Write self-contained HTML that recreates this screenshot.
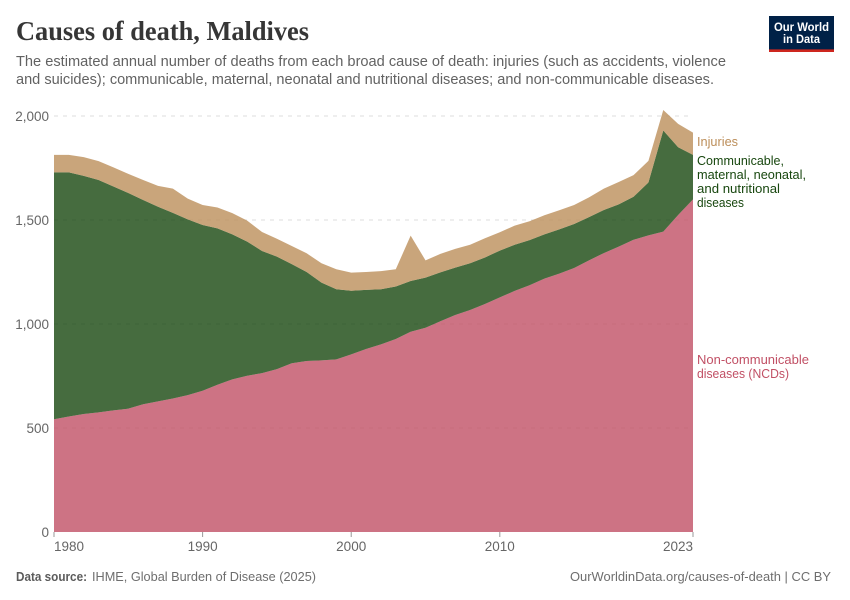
<!DOCTYPE html>
<html lang="en">
<head>
<meta charset="utf-8">
<title>Causes of death, Maldives</title>
<style>
html,body{margin:0;padding:0;background:#fff;width:850px;height:600px;overflow:hidden}
svg{display:block}
text{font-family:"Liberation Sans",sans-serif}
</style>
</head>
<body>
<svg id="chart" xmlns="http://www.w3.org/2000/svg" width="850" height="600" viewBox="0 0 850 600">
  <text x="16" y="40" textLength="293" lengthAdjust="spacingAndGlyphs" style="font-family:'Liberation Serif',serif;font-weight:700;font-size:27px" fill="#363636">Causes of death, Maldives</text>
  <text x="16" y="66" textLength="710" lengthAdjust="spacingAndGlyphs" font-size="15" fill="#626262">The estimated annual number of deaths from each broad cause of death: injuries (such as accidents, violence</text>
  <text x="16" y="84" textLength="698" lengthAdjust="spacingAndGlyphs" font-size="15" fill="#626262">and suicides); communicable, maternal, neonatal and nutritional diseases; and non-communicable diseases.</text>

  <g>
    <rect x="769" y="16" width="65" height="36" fill="#002147"/>
    <rect x="769" y="49.4" width="65" height="2.6" fill="#ce261e"/>
    <text x="801.5" y="31" text-anchor="middle" textLength="55" lengthAdjust="spacingAndGlyphs" font-size="12" font-weight="700" fill="#fff">Our World</text>
    <text x="801.5" y="43" text-anchor="middle" textLength="37" lengthAdjust="spacingAndGlyphs" font-size="12" font-weight="700" fill="#fff">in Data</text>
  </g>

  <g id="grid"></g>
  <g id="areas"></g>
  <g id="yaxis"></g>
  <g id="xaxis"></g>

  <g>
    <text x="697" y="146" textLength="41" lengthAdjust="spacingAndGlyphs" font-size="12.5" fill="#BC8E5A">Injuries</text>
    <g font-size="12.5" fill="#18470F">
      <text x="697" y="165" textLength="87" lengthAdjust="spacingAndGlyphs">Communicable,</text>
      <text x="697" y="179" textLength="109" lengthAdjust="spacingAndGlyphs">maternal, neonatal,</text>
      <text x="697" y="193" textLength="83" lengthAdjust="spacingAndGlyphs">and nutritional</text>
      <text x="697" y="207" textLength="47" lengthAdjust="spacingAndGlyphs">diseases</text>
    </g>
    <g font-size="12.5" fill="#C15065">
      <text x="697" y="364" textLength="112" lengthAdjust="spacingAndGlyphs">Non-communicable</text>
      <text x="697" y="378" textLength="92" lengthAdjust="spacingAndGlyphs">diseases (NCDs)</text>
    </g>
  </g>

  <text x="16" y="581" font-size="13" fill="#5b5b5b"><tspan font-weight="700" textLength="71" lengthAdjust="spacingAndGlyphs">Data source:</tspan><tspan x="92" textLength="224" lengthAdjust="spacingAndGlyphs" fill="#6e6e6e">IHME, Global Burden of Disease (2025)</tspan></text>
  <text x="570" y="581" textLength="261" lengthAdjust="spacingAndGlyphs" font-size="13" fill="#6e6e6e">OurWorldinData.org/causes-of-death | CC BY</text>
</svg>
<script>
const years = [1980,1981,1982,1983,1984,1985,1986,1987,1988,1989,1990,1991,1992,1993,1994,1995,1996,1997,1998,1999,2000,2001,2002,2003,2004,2005,2006,2007,2008,2009,2010,2011,2012,2013,2014,2015,2016,2017,2018,2019,2020,2021,2022,2023];
const ncds = [542,555,567,575,585,593,614,628,642,658,679,708,734,751,764,783,811,822,825,830,854,880,902,928,963,982,1013,1043,1067,1096,1128,1159,1186,1218,1242,1269,1306,1341,1372,1405,1426,1444,1524,1599];
const communicable = [1187,1174,1145,1117,1076,1037,982,936,892,845,797,752,697,645,587,541,477,428,374,337,306,284,265,252,244,241,235,228,225,224,225,222,217,213,213,212,208,207,203,207,254,486,326,214];
const injuries = [84,84,90,91,92,92,96,100,117,100,96,100,102,101,91,86,87,90,93,96,87,86,87,83,218,83,89,90,89,92,88,92,91,92,92,91,95,103,108,104,104,99,112,107];
const yTicks = [0,500,1000,1500,2000];
const xTicks = [1980,1990,2000,2010,2023];

const NS = 'http://www.w3.org/2000/svg';
const plotLeft = 54, plotRight = 693, plotBottom = 532, plotTop = 116;
const yMax = 2000;
const xScale = function (yr) {
  return plotLeft + (yr - years[0]) / (years[years.length - 1] - years[0]) * (plotRight - plotLeft);
};
const yScale = function (v) {
  return plotBottom - v / yMax * (plotBottom - plotTop);
};
const make = function (tag, attrs, parent) {
  const el = document.createElementNS(NS, tag);
  for (const k in attrs) el.setAttribute(k, attrs[k]);
  parent.appendChild(el);
  return el;
};

const gridG = document.getElementById('grid');
yTicks.forEach(function (t) {
  if (t === 0) return;
  const line = make('line', {x1: plotLeft, x2: plotRight, y1: yScale(t), y2: yScale(t), stroke: '#dddddd', 'stroke-width': 1, 'stroke-dasharray': '4,5'}, gridG);
  
  
});

const areasG = document.getElementById('areas');
const stackDefs = [
  {name: 'area-ncds', values: ncds, color: '#C15065'},
  {name: 'area-communicable', values: communicable, color: '#18470F'},
  {name: 'area-injuries', values: injuries, color: '#BC8E5A'}
];
let baseline = years.map(function () { return 0; });
stackDefs.forEach(function (s) {
  const top = s.values.map(function (v, i) { return baseline[i] + v; });
  let d = '';
  years.forEach(function (yr, i) {
    d += (i ? 'L' : 'M') + xScale(yr).toFixed(2) + ' ' + yScale(top[i]).toFixed(2);
  });
  for (let i = years.length - 1; i >= 0; i--) {
    d += 'L' + xScale(years[i]).toFixed(2) + ' ' + yScale(baseline[i]).toFixed(2);
  }
  d += 'Z';
  const path = make('path', {d: d, fill: s.color, 'fill-opacity': 0.8}, areasG);
  
  
  baseline = top;
});

const yAxisG = document.getElementById('yaxis');
yTicks.forEach(function (t) {
  const label = make('text', {x: 49, y: yScale(t) + 5, 'text-anchor': 'end', 'font-size': 13.5, fill: '#666666'}, yAxisG);
  label.textContent = t.toLocaleString('en-US');
  
  
});

const xAxisG = document.getElementById('xaxis');
xTicks.forEach(function (yr, i) {
  const tick = make('line', {x1: xScale(yr), x2: xScale(yr), y1: plotBottom, y2: plotBottom + 5, stroke: '#999999', 'stroke-width': 1}, xAxisG);
  
  
  const anchor = i === 0 ? 'start' : (i === xTicks.length - 1 ? 'end' : 'middle');
  const label = make('text', {x: xScale(yr), y: 551, 'text-anchor': anchor, 'font-size': 13.5, fill: '#666666'}, xAxisG);
  label.textContent = String(yr);
  
  
});
</script>
</body>
</html>
